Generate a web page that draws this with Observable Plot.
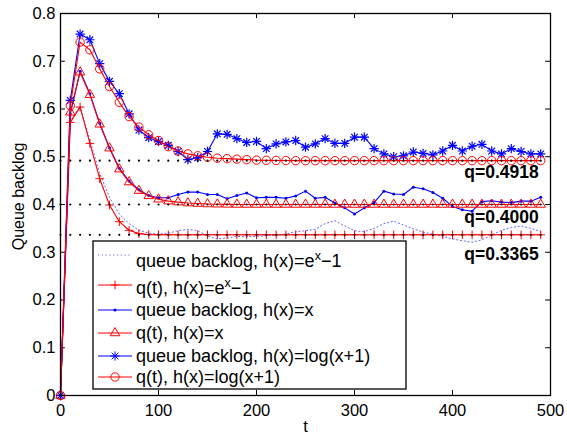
<!DOCTYPE html>
<html><head><meta charset="utf-8">
<script src="https://cdn.jsdelivr.net/npm/d3@7"></script>
<script src="https://cdn.jsdelivr.net/npm/@observablehq/plot@0.6"></script>
<style>
body{margin:0;background:#fff;}
#chart{position:relative;width:567px;height:434px;background:#fff;}
</style></head><body><div id="chart"></div>
<script>
// time grid (samples)
const tGrid = [0,10,20,30,40,50,60,70,80,90,100,110,120,130,140,150,160,170,180,190,200,210,220,230,240,250,260,270,280,290,300,310,320,330,340,350,360,370,380,390,400,410,420,430,440,450,460,470,480,490];

// queue backlog, h(x)=e^x-1 (blue dotted)
const expBacklog = [0,0.575,0.606,0.535,0.465,0.415,0.380,0.360,0.346,0.340,0.338,0.340,0.345,0.348,0.345,0.334,0.328,0.330,0.333,0.333,0.333,0.335,0.335,0.338,0.343,0.345,0.348,0.360,0.366,0.355,0.345,0.343,0.350,0.360,0.365,0.357,0.349,0.342,0.338,0.333,0.328,0.324,0.321,0.326,0.336,0.346,0.352,0.355,0.350,0.343];
// q(t), h(x)=e^x-1 (red +)
const expQ = [0,0.572,0.604,0.528,0.454,0.399,0.364,0.346,0.339,0.337,0.3366,0.3365,0.3365,0.3365,0.3365,0.3365,0.3365,0.3365,0.3365,0.3365,0.3365,0.3365,0.3365,0.3365,0.3365,0.3365,0.3365,0.3365,0.3365,0.3365,0.3365,0.3365,0.3365,0.3365,0.3365,0.3365,0.3365,0.3365,0.3365,0.3365,0.3365,0.3365,0.3365,0.3365,0.3365,0.3365,0.3365,0.3365,0.3365,0.3365];
// queue backlog, h(x)=x (blue .)
const linBacklog = [0,0.590,0.679,0.632,0.570,0.519,0.476,0.449,0.431,0.419,0.414,0.414,0.421,0.426,0.426,0.421,0.421,0.412,0.419,0.424,0.414,0.415,0.415,0.413,0.418,0.428,0.413,0.415,0.403,0.393,0.380,0.393,0.404,0.428,0.422,0.421,0.436,0.433,0.425,0.413,0.396,0.389,0.386,0.406,0.408,0.405,0.404,0.407,0.407,0.415];
// q(t), h(x)=x (red triangle)
const linQ = [0,0.593,0.677,0.630,0.568,0.518,0.474,0.447,0.429,0.418,0.411,0.407,0.405,0.403,0.402,0.401,0.4005,0.4002,0.4,0.4,0.4,0.4,0.4,0.4,0.4,0.4,0.4,0.4,0.4,0.4,0.4,0.4,0.4,0.4,0.4,0.4,0.4,0.4,0.4,0.4,0.4,0.4,0.4,0.4,0.4,0.4,0.4,0.4,0.4,0.4];
// queue backlog, h(x)=log(x+1) (blue *)
const logBacklog = [0,0.618,0.757,0.745,0.695,0.658,0.632,0.590,0.556,0.540,0.532,0.524,0.511,0.494,0.498,0.511,0.548,0.547,0.538,0.530,0.532,0.517,0.527,0.531,0.534,0.520,0.527,0.538,0.528,0.528,0.541,0.541,0.517,0.506,0.500,0.502,0.510,0.507,0.504,0.512,0.524,0.512,0.522,0.526,0.512,0.506,0.517,0.511,0.506,0.506];
// q(t), h(x)=log(x+1) (red o)
const logQ = [0,0.607,0.740,0.724,0.684,0.647,0.614,0.584,0.562,0.546,0.534,0.521,0.512,0.506,0.502,0.499,0.497,0.496,0.495,0.494,0.493,0.4925,0.4922,0.492,0.4918,0.4918,0.4918,0.4918,0.4918,0.4918,0.4918,0.4918,0.4918,0.4918,0.4918,0.4918,0.4918,0.4918,0.4918,0.4918,0.4918,0.4918,0.4918,0.4918,0.4918,0.4918,0.4918,0.4918,0.4918,0.4918];

// equilibrium levels and their labels
const qLevels = [0.4918, 0.4000, 0.3365];
const qLabels = ["q=0.4918", "q=0.4000", "q=0.3365"];
const qLabelY = [0.467, 0.373, 0.2945];
const qLabelX = [488, 488, 488];

const seriesNames = ["queue backlog, h(x)=e^x\u22121", "q(t), h(x)=e^x\u22121", "queue backlog, h(x)=x", "q(t), h(x)=x", "queue backlog, h(x)=log(x+1)", "q(t), h(x)=log(x+1)"];

const xTicks = [0,100,200,300,400,500];
const yTicks = [0,0.1,0.2,0.3,0.4,0.5,0.6,0.7,0.8];

const toRows = (vals) => tGrid.map((t, i) => ({t, v: vals[i]}));
const levelDots = qLevels.flatMap(q => tGrid.map(t => ({t, v: q})));

const RED = "#ff0000", BLUE = "#0000ff";
const LW = 1.1;
const yFmt = d => d === 0 ? "0" : d3.format(".1f")(d);

const plot = Plot.plot({
  width: 567, height: 434,
  marginLeft: 60, marginRight: 17, marginTop: 13, marginBottom: 39,
  x: {domain: [0, 500]},
  y: {domain: [0, 0.8]},
  style: {fontFamily: "'Liberation Sans', Arial, sans-serif", fontSize: "16px", color: "black", background: "white"},
  marks: [
    Plot.axisX(xTicks, {tickSize: 0, tickPadding: 9, tickFormat: d => String(d), label: null, fontSize: 16.5}),
    Plot.axisY(yTicks, {tickSize: 0, tickPadding: 5, tickFormat: yFmt, label: null, fontSize: 16.5}),
    // inward tick marks on all four sides
    Plot.ruleY(yTicks, {x1: 0, x2: 5, stroke: "black"}),
    Plot.ruleY(yTicks, {x1: 495, x2: 500, stroke: "black"}),
    Plot.ruleX(xTicks, {y1: 0, y2: 0.0105, stroke: "black"}),
    Plot.ruleX(xTicks, {y1: 0.7895, y2: 0.8, stroke: "black"}),
    // series
    Plot.line(toRows(expBacklog), {x: "t", y: "v", stroke: BLUE, strokeWidth: 1, strokeDasharray: "1.2,2.6", strokeOpacity: 0.6}),
    Plot.line(toRows(expQ), {x: "t", y: "v", stroke: RED, strokeWidth: LW}),
    Plot.dot(toRows(expQ), {x: "t", y: "v", symbol: "plus", r: 2.9, stroke: RED, strokeWidth: 1}),
    Plot.line(toRows(linBacklog), {x: "t", y: "v", stroke: BLUE, strokeWidth: LW}),
    Plot.dot(toRows(linBacklog), {x: "t", y: "v", r: 1.5, fill: BLUE, stroke: "none"}),
    Plot.line(toRows(linQ), {x: "t", y: "v", stroke: RED, strokeWidth: LW}),
    Plot.dot(toRows(linQ), {x: "t", y: "v", symbol: "triangle", r: 3.5, fill: "none", stroke: RED, strokeWidth: 1}),
    Plot.line(toRows(logBacklog), {x: "t", y: "v", stroke: BLUE, strokeWidth: LW}),
    Plot.dot(toRows(logBacklog), {x: "t", y: "v", symbol: "plus", r: 3.1, stroke: BLUE, strokeWidth: 1.2}),
    Plot.dot(toRows(logBacklog), {x: "t", y: "v", symbol: "times", r: 3.1, stroke: BLUE, strokeWidth: 1.2}),
    Plot.line(toRows(logQ), {x: "t", y: "v", stroke: RED, strokeWidth: LW}),
    Plot.dot(toRows(logQ), {x: "t", y: "v", symbol: "circle", r: 4.2, fill: "none", stroke: RED, strokeWidth: 1}),
    // equilibrium levels (black dotted)
    Plot.dot(levelDots, {x: "t", y: "v", r: 1.1, fill: "black", stroke: "none"}),
    Plot.text(qLabels, {x: (d, i) => qLabelX[i], y: (d, i) => qLabelY[i], text: d => d, textAnchor: "end", fontWeight: "bold", fontSize: 17.5, fill: "black"}),
    // axis labels
    Plot.text(["Queue backlog"], {frameAnchor: "left", rotate: -90, dx: -42, dy: -8, textAnchor: "middle", lineAnchor: "middle", fontSize: 16, fill: "black"}),
    Plot.text(["t"], {frameAnchor: "bottom", dy: 31, textAnchor: "middle", lineAnchor: "middle", fontSize: 16.5, fill: "black"}),
    Plot.frame({stroke: "black", strokeWidth: 1.3})
  ]
});

document.getElementById("chart").appendChild(plot);

// legend
const svg = d3.select(plot);
const lg = svg.append("g").attr("font-family", "'Liberation Sans', Arial, sans-serif").attr("font-size", 18).attr("text-anchor", "start");
lg.append("rect").attr("x", 93).attr("y", 241).attr("width", 313).attr("height", 148)
  .attr("fill", "white").attr("stroke", "black").attr("stroke-width", 1.3);
const lineY = [255, 285, 310, 333, 356, 377];
const baseY = [267, 294, 316, 339, 361.5, 383];
const styles = [
  {stroke: BLUE, dash: "1.2,2.6", op: 0.6, marks: []},
  {stroke: RED, marks: [[d3.symbolPlus, 2.9, "stroke"]]},
  {stroke: BLUE, marks: [["dot", 1.5, "fill"]]},
  {stroke: RED, marks: [[d3.symbolTriangle, 3.5, "stroke"]]},
  {stroke: BLUE, marks: [[d3.symbolPlus, 3.1, "stroke"], [d3.symbolTimes, 3.1, "stroke"]]},
  {stroke: RED, marks: [[d3.symbolCircle, 4.2, "stroke"]]}
];
seriesNames.forEach((name, i) => {
  const s = styles[i];
  lg.append("line").attr("x1", 98).attr("x2", 132).attr("y1", lineY[i]).attr("y2", lineY[i])
    .attr("stroke", s.stroke).attr("stroke-width", LW).attr("stroke-dasharray", s.dash || null)
    .attr("stroke-opacity", s.op || 1);
  s.marks.forEach(([type, r, mode]) => {
    if (type === "dot") {
      lg.append("circle").attr("cx", 115).attr("cy", lineY[i]).attr("r", r).attr("fill", s.stroke);
    } else {
      lg.append("path").attr("transform", `translate(115,${lineY[i]})`)
        .attr("d", d3.symbol(type, Math.PI * r * r)())
        .attr("fill", "none").attr("stroke", s.stroke).attr("stroke-width", 1);
    }
  });
  const txt = lg.append("text").attr("x", 136).attr("y", baseY[i]).attr("fill", "black").attr("text-anchor", "start");
  const parts = name.split("^x");
  if (parts.length === 2) {
    txt.append("tspan").text(parts[0]);
    txt.append("tspan").attr("dy", -7).attr("font-size", 12.5).text("x");
    txt.append("tspan").attr("dy", 7).text(parts[1]);
  } else {
    txt.text(name);
  }
});
</script>
</body></html>
